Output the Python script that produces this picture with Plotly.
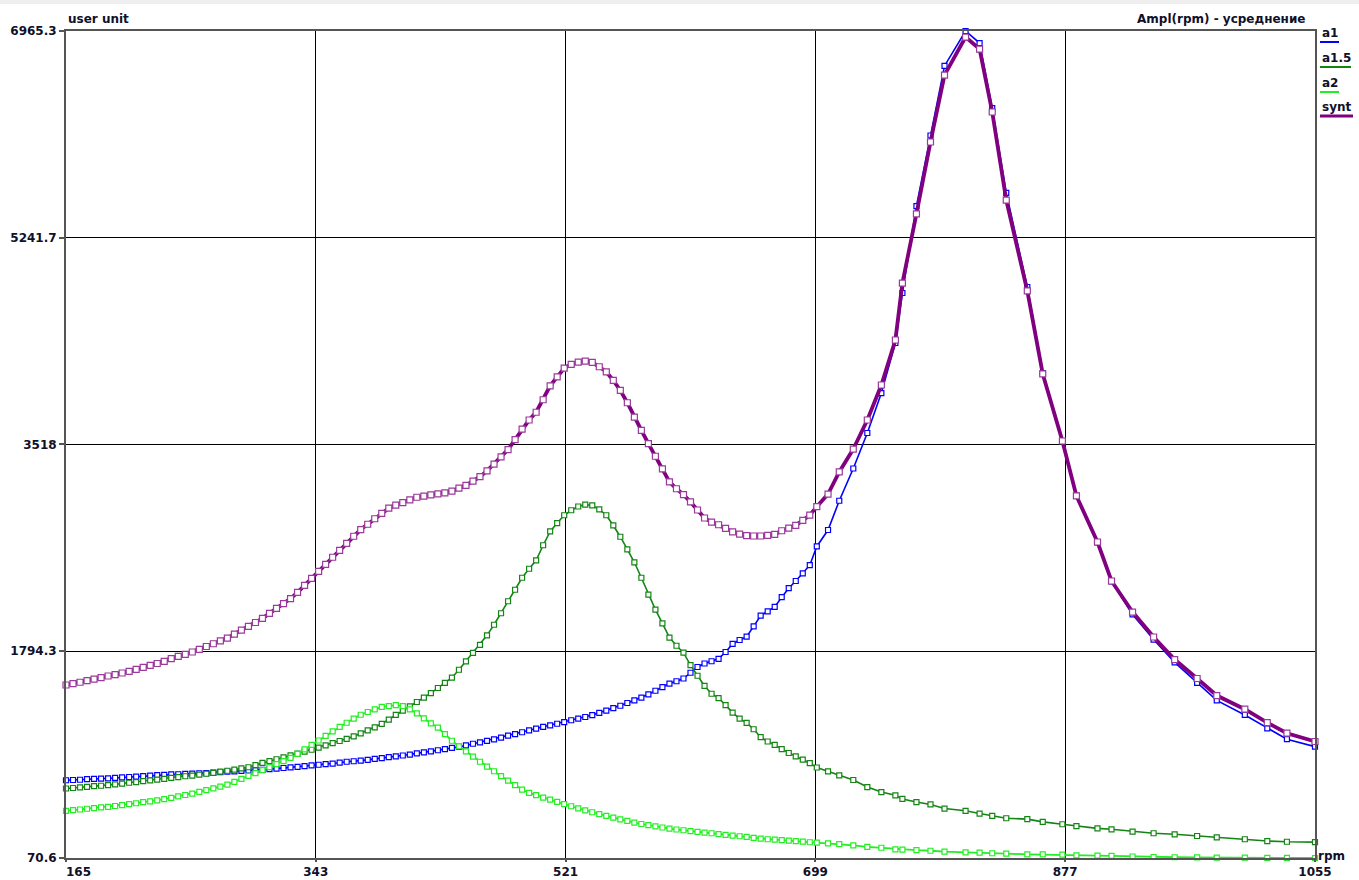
import plotly.graph_objects as go

# ---------------- data ----------------
rpm = list(range(165, 701, 5)) + [708, 716, 726, 736, 746, 756, 761, 771, 781, 791,
                                  806, 816, 825, 835, 850, 861, 875, 885, 900, 910,
                                  925, 940, 955, 971, 985, 1005, 1021, 1035, 1055]

a1 = [719, 721, 723, 728, 730, 733, 734, 738, 742, 746,
      749, 753, 757, 761, 764, 767, 769, 772, 774, 777,
      779, 783, 786, 790, 793, 797, 800, 803, 806, 811,
      816, 821, 826, 831, 837, 843, 848, 853, 858, 865,
      873, 877, 883, 889, 897, 903, 911, 918, 925, 933,
      943, 951, 960, 969, 978, 988, 997, 1009, 1023, 1035,
      1047, 1059, 1074, 1091, 1104, 1119, 1135, 1150, 1164, 1177,
      1190, 1204, 1219, 1233, 1246, 1262, 1281, 1300, 1320, 1340,
      1363, 1385, 1408, 1435, 1465, 1495, 1525, 1544, 1567, 1615,
      1663, 1692, 1711, 1731, 1788, 1855, 1888, 1916, 2002, 2092,
      2127, 2164, 2245, 2320, 2380, 2444, 2512, 2668,
      2805, 3049, 3318, 3614, 3947, 4364, 4781, 5506, 6094, 6674,
      6965.3, 6865, 6323, 5615, 4831, 4114, 3547, 3089, 2701, 2376,
      2101, 1892, 1702, 1530, 1385, 1263, 1152, 1061, 999]

a1_5 = [650, 654, 660, 664, 669, 673, 678, 684, 691, 698,
        704, 711, 718, 724, 731, 738, 745, 752, 758, 766,
        773, 781, 790, 798, 808, 817, 827, 845, 863, 879,
        894, 909, 926, 941, 957, 973, 991, 1009, 1028, 1046,
        1064, 1084, 1109, 1134, 1159, 1189, 1225, 1263, 1299, 1334,
        1371, 1408, 1445, 1488, 1531, 1574, 1640, 1710, 1781, 1848,
        1927, 2015, 2111, 2211, 2307, 2407, 2482, 2552, 2678, 2793,
        2863, 2928, 2970, 3001, 3017, 3010, 2977, 2928, 2843, 2749,
        2643, 2536, 2407, 2267, 2142, 2026, 1908, 1840, 1782, 1678,
        1590, 1505, 1440, 1404, 1345, 1283, 1233, 1197, 1144, 1078,
        1042, 1014, 979, 946, 918, 890, 861, 825,
        793, 760, 721, 662, 620, 593, 563, 537, 517, 483,
        464, 441, 422, 402, 395, 372, 352, 337, 318, 310,
        291, 277, 268, 254, 243, 227, 212, 206, 203]

a2 = [464, 470, 475, 481, 486, 492, 497, 504, 512, 520,
      527, 536, 543, 551, 561, 572, 584, 596, 608, 622,
      636, 651, 666, 682, 706, 731, 755, 779, 804, 828,
      854, 879, 905, 938, 976, 1014, 1050, 1088, 1126, 1164,
      1198, 1232, 1265, 1288, 1310, 1330, 1337, 1345, 1336, 1310,
      1277, 1234, 1193, 1158, 1103, 1048, 1002, 959, 916, 873,
      833, 794, 753, 716, 678, 641, 614, 594, 574, 557,
      538, 520, 502, 485, 468, 452, 436, 421, 407, 393,
      380, 366, 354, 344, 334, 325, 316, 308, 302, 295,
      288, 282, 277, 270, 263, 257, 252, 246, 239, 232,
      227, 223, 220, 216, 212, 207, 202, 199,
      193, 187, 176, 164, 156, 143, 141, 136, 131, 123,
      118, 116, 110, 107, 101, 100, 98, 93, 91, 89,
      83, 79, 77, 75, 74, 73, 72, 71, 70.6]

synt = [1513, 1525, 1536, 1550, 1562, 1575, 1588, 1600, 1613, 1627,
        1643, 1660, 1676, 1692, 1710, 1733, 1751, 1769, 1788, 1810,
        1834, 1857, 1881, 1904, 1937, 1970, 2002, 2034, 2069, 2110,
        2151, 2192, 2233, 2285, 2343, 2402, 2460, 2518, 2578, 2636,
        2694, 2753, 2809, 2853, 2899, 2943, 2987, 3013, 3034, 3056,
        3078, 3088, 3098, 3106, 3115, 3129, 3154, 3178, 3213, 3250,
        3298, 3354, 3414, 3475, 3559, 3646, 3722, 3787, 3891, 4007,
        4082, 4154, 4186, 4204, 4213, 4203, 4166, 4124, 4052, 3969,
        3866, 3746, 3636, 3525, 3420, 3315, 3207, 3149, 3100, 3039,
        2972, 2905, 2871, 2849, 2819, 2789, 2770, 2758, 2755, 2755,
        2761, 2768, 2799, 2820, 2844, 2885, 2929, 3000,
        3105, 3289, 3480, 3722, 4014, 4389, 4864, 5440, 6040, 6598,
        6915, 6815, 6290, 5556, 4798, 4106, 3547, 3089, 2705, 2380,
        2121, 1913, 1725, 1567, 1425, 1311, 1199, 1111, 1042]

x_ticks = [165, 343, 521, 699, 877, 1055]
x_ticktext = ["\u2007\u2007\u2007165", "343", "521", "699", "877", "1055"]
y_ticks = [70.6, 1794.3, 3518, 5241.7, 6965.3]
y_ticktext = ["70.6", "1794.3", "3518", "5241.7", "6965.3"]

series_names = ["a1", "a1.5", "a2", "synt"]
series_values = [a1, a1_5, a2, synt]
line_colors = ["#0000ff", "#138513", "#22ee22", "#800080"]
marker_lines = ["#0000ff", "#138513", "#22ee22", "#9a3a9a"]
line_widths = [1.6, 1.6, 1.8, 3.8]
marker_sizes = [5, 5, 5, 6]

FONT = "DejaVu Sans"
TXT = "#10102a"

# ---------------- figure ----------------
fig = go.Figure()
for name, vals, lc, mc, lw, ms in zip(series_names, series_values, line_colors,
                                      marker_lines, line_widths, marker_sizes):
    fig.add_trace(go.Scatter(
        x=rpm, y=vals, name=name, mode="lines+markers",
        line=dict(color=lc, width=lw),
        marker=dict(symbol="square", size=ms, color="white",
                    line=dict(color=mc, width=1.2)),
        cliponaxis=False, showlegend=False))

W, H = 1359, 880
L, R, T, B = 66, 44, 31, 22
pw, ph = W - L - R, H - T - B


def px_x(p):
    return (p - L) / pw


def px_y(p):
    return (H - B - p) / ph


axis_common = dict(showgrid=True, gridcolor="#000000", gridwidth=1,
                   zeroline=False, showline=True, linecolor="#555555",
                   linewidth=2, mirror=True, ticks="outside",
                   tickcolor="#555555", tickwidth=2, automargin=False,
                   tickfont=dict(family=FONT, size=12, color=TXT, weight="bold"))

fig.update_layout(
    width=W, height=H,
    margin=dict(l=L, r=R, t=T, b=B, pad=0, autoexpand=False),
    paper_bgcolor="white", plot_bgcolor="white",
    font=dict(family=FONT, size=12, color=TXT),
    xaxis=dict(range=[165, 1055], tickmode="array", tickvals=x_ticks,
               ticktext=x_ticktext, ticklen=2, **axis_common),
    yaxis=dict(range=[70.6, 6965.3], tickmode="array", tickvals=y_ticks,
               ticktext=y_ticktext, ticklen=5, **axis_common),
)

annots = [
    dict(text="<b>user unit</b>", x=0, y=px_y(19), xanchor="left"),
    dict(text="<b>Ampl(rpm) - усреднение</b>", x=px_x(1307), y=px_y(19), xanchor="right"),
    dict(text="<b>rpm</b>", x=px_x(1316), y=px_y(856), xanchor="left"),
]
leg_y = [33, 58, 83, 107]
leg_w = [19, 31, 19, 33]
leg_lw = [2, 2, 2, 3]
shapes = [dict(type="rect", xref="paper", yref="paper", x0=px_x(0), x1=px_x(W),
               y0=px_y(4), y1=px_y(0), fillcolor="#eeeeee", line=dict(width=0),
               layer="below")]
for name, yy, ww, lc, lw in zip(series_names, leg_y, leg_w, line_colors, leg_lw):
    annots.append(dict(text="<b>" + name + "</b>", x=px_x(1320), y=px_y(yy),
                       xanchor="left"))
    shapes.append(dict(type="line", xref="paper", yref="paper",
                       x0=px_x(1320), x1=px_x(1320 + ww),
                       y0=px_y(yy + 9), y1=px_y(yy + 9),
                       line=dict(color=lc, width=lw)))

for a in annots:
    a.update(xref="paper", yref="paper", yanchor="middle", showarrow=False,
             font=dict(family=FONT, size=12, color=TXT))
fig.update_layout(annotations=annots, shapes=shapes)

fig.write_html("out.html", config={"displayModeBar": False},
               post_script="document.body.style.margin='0';")
